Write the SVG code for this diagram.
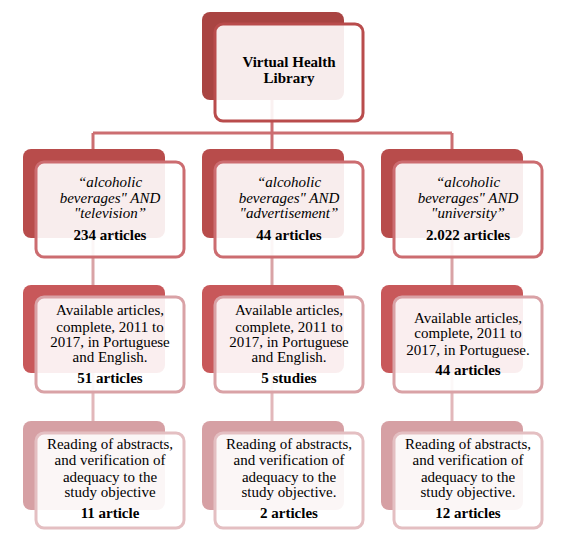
<svg xmlns="http://www.w3.org/2000/svg" width="564" height="537" viewBox="0 0 564 537">
<style>
text{font-family:'Liberation Serif','Times New Roman',serif;font-size:15px;fill:#000;text-anchor:middle}
.b{font-weight:bold}
.i{font-style:italic}
.front{fill:#fff;fill-opacity:0.9;stroke-width:3}
.l1 .back{fill:#a94442}.l1 .front{stroke:#b94c4c}
.l2 .back{fill:#b84c4b}.l2 .front{stroke:#cc6c70}
.l3 .back{fill:#c8585a}.l3 .front{stroke:#d9a2a6}
.l4 .back{fill:#d6a0a4}.l4 .front{stroke:#e4bfc2}
.c1{stroke:#cc6e71;stroke-width:3;fill:none}
.c2{stroke:#d9a3a6;stroke-width:3;fill:none}
.c3{stroke:#e2b7ba;stroke-width:3;fill:none}
</style>
<rect width="564" height="537" fill="#fff"/>
<g id="connectors">
<path class="c1" d="M272,100 V133 M93,133 H452 M93,133 V149 M272,133 V149 M452,133 V149"/>
<path class="c2" d="M93,238 V285 M272,238 V285 M452,238 V285"/>
<path class="c3" d="M93,373 V421 M272,373 V421 M452,373 V421"/>
</g>
<g id="vhl" class="l1">
<rect class="back" x="202" y="12" width="142" height="88" rx="8"/>
<rect class="front" x="215" y="24" width="148" height="97" rx="8"/>
<text class="b" x="289" y="67">Virtual Health</text>
<text class="b" x="289" y="83">Library</text>
</g>
<g id="q-television" class="l2">
<rect class="back" x="23" y="149" width="142" height="89" rx="8"/>
<rect class="front" x="36" y="162" width="148" height="95" rx="8"/>
<text class="i" x="110" y="187">“alcoholic</text>
<text class="i" x="110" y="203">beverages" AND</text>
<text class="i" x="110" y="218">"television”</text>
<text class="b" x="110" y="240">234 articles</text>
</g>
<g id="q-advertisement" class="l2">
<rect class="back" x="202" y="149" width="142" height="89" rx="8"/>
<rect class="front" x="215" y="162" width="148" height="95" rx="8"/>
<text class="i" x="289" y="187">“alcoholic</text>
<text class="i" x="289" y="203">beverages" AND</text>
<text class="i" x="289" y="218">"advertisement”</text>
<text class="b" x="289" y="240">44 articles</text>
</g>
<g id="q-university" class="l2">
<rect class="back" x="381" y="149" width="142" height="89" rx="8"/>
<rect class="front" x="394" y="162" width="148" height="95" rx="8"/>
<text class="i" x="468" y="187">“alcoholic</text>
<text class="i" x="468" y="203">beverages" AND</text>
<text class="i" x="468" y="218">"university”</text>
<text class="b" x="468" y="240">2.022 articles</text>
</g>
<g id="f-television" class="l3">
<rect class="back" x="23" y="285" width="142" height="88" rx="8"/>
<rect class="front" x="36" y="297" width="148" height="95" rx="8"/>
<text x="110" y="315">Available articles,</text>
<text x="110" y="332">complete, 2011 to</text>
<text x="110" y="347">2017, in Portuguese</text>
<text x="110" y="362">and English.</text>
<text class="b" x="110" y="383">51 articles</text>
</g>
<g id="f-advertisement" class="l3">
<rect class="back" x="202" y="285" width="142" height="88" rx="8"/>
<rect class="front" x="215" y="297" width="148" height="95" rx="8"/>
<text x="289" y="315">Available articles,</text>
<text x="289" y="332">complete, 2011 to</text>
<text x="289" y="347">2017, in Portuguese</text>
<text x="289" y="362">and English.</text>
<text class="b" x="289" y="383">5 studies</text>
</g>
<g id="f-university" class="l3">
<rect class="back" x="381" y="285" width="142" height="88" rx="8"/>
<rect class="front" x="394" y="297" width="148" height="95" rx="8"/>
<text x="468" y="323">Available articles,</text>
<text x="468" y="338">complete, 2011 to</text>
<text x="468" y="355">2017, in Portuguese.</text>
<text class="b" x="468" y="375">44 articles</text>
</g>
<g id="r-television" class="l4">
<rect class="back" x="23" y="421" width="142" height="89" rx="8"/>
<rect class="front" x="36" y="433" width="148" height="95" rx="8"/>
<text x="110" y="449">Reading of abstracts,</text>
<text x="110" y="465">and verification of</text>
<text x="110" y="482">adequacy to the</text>
<text x="110" y="497">study objective</text>
<text class="b" x="110" y="518">11 article</text>
</g>
<g id="r-advertisement" class="l4">
<rect class="back" x="202" y="421" width="142" height="89" rx="8"/>
<rect class="front" x="215" y="433" width="148" height="95" rx="8"/>
<text x="289" y="449">Reading of abstracts,</text>
<text x="289" y="465">and verification of</text>
<text x="289" y="482">adequacy to the</text>
<text x="289" y="497">study objective.</text>
<text class="b" x="289" y="518">2 articles</text>
</g>
<g id="r-university" class="l4">
<rect class="back" x="381" y="421" width="142" height="89" rx="8"/>
<rect class="front" x="394" y="433" width="148" height="95" rx="8"/>
<text x="468" y="449">Reading of abstracts,</text>
<text x="468" y="465">and verification of</text>
<text x="468" y="482">adequacy to the</text>
<text x="468" y="497">study objective.</text>
<text class="b" x="468" y="518">12 articles</text>
</g>
</svg>
